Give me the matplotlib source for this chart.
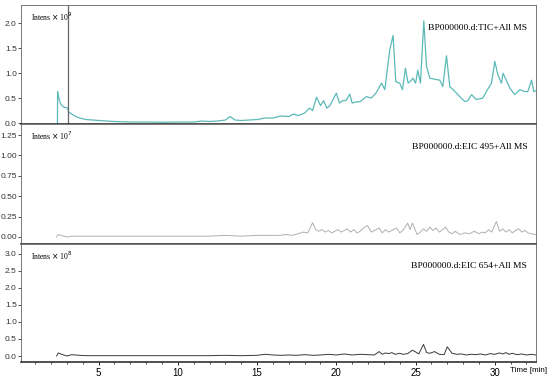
import matplotlib
matplotlib.use("Agg")
import matplotlib.pyplot as plt
from matplotlib.ticker import MultipleLocator

# ---------------- data ----------------
tic_t = [2.40, 2.41, 2.45, 2.55, 2.65, 2.79, 2.95, 3.04, 3.11, 3.3, 3.5, 3.8, 4.2, 4.6, 5.06,
         5.5, 6.0, 7.0, 8.0, 9.0, 10.0, 11.0, 11.5, 12.0, 12.5, 13.0, 13.3, 13.6, 14.0,
         14.5, 15.0, 15.5, 16.0, 16.5, 17.0, 17.3, 17.6, 18.0, 18.3, 18.5, 18.75, 19.0,
         19.2, 19.4, 19.6, 20.0, 20.2, 20.4, 20.6, 20.85, 21.0, 21.2, 21.5, 21.9, 22.2,
         22.5, 22.85, 23.06, 23.37, 23.58, 23.75, 24.0, 24.17, 24.36, 24.53, 24.7, 24.84,
         25.0, 25.14, 25.31, 25.52, 25.69, 25.9, 26.2, 26.53, 26.72, 26.95, 27.16, 27.37,
         27.79, 28.11, 28.3, 28.53, 28.84, 29.24, 29.5, 29.79, 30.0, 30.19, 30.42, 30.52,
         30.74, 30.95, 31.26, 31.58, 31.89, 32.08, 32.32, 32.46, 32.6]
tic_v = [0.00, 0.63, 0.55, 0.42, 0.36, 0.32, 0.31, 0.30, 0.22, 0.18, 0.14, 0.10, 0.07, 0.06, 0.05,
         0.04, 0.03, 0.02, 0.02, 0.015, 0.02, 0.02, 0.04, 0.03, 0.04, 0.06, 0.13, 0.06, 0.05,
         0.06, 0.07, 0.10, 0.10, 0.14, 0.13, 0.18, 0.15, 0.20, 0.30, 0.25, 0.52, 0.35,
         0.45, 0.30, 0.35, 0.60, 0.40, 0.45, 0.45, 0.58, 0.40, 0.42, 0.43, 0.53, 0.50,
         0.60, 0.80, 0.67, 1.47, 1.76, 0.83, 0.80, 0.67, 1.10, 0.80, 0.85, 0.90,
         0.80, 1.06, 0.80, 2.05, 1.14, 0.90, 0.88, 0.86, 0.73, 1.35, 0.73, 0.67,
         0.53, 0.43, 0.45, 0.57, 0.47, 0.50, 0.65, 0.80, 1.24, 0.97, 0.80, 1.00,
         0.85, 0.70, 0.57, 0.67, 0.63, 0.63, 0.86, 0.63, 0.65]

eic495_t = [2.35, 2.45, 2.6, 2.8, 3.0, 3.3, 3.6, 4.0, 5.0, 6.0, 7.0, 8.0, 9.0, 10.0, 11.0,
            12.0, 13.0, 14.0, 15.0, 15.5, 16.0, 16.4, 16.8, 17.2, 17.6, 17.9, 18.2, 18.5,
            18.7, 18.9, 19.1, 19.3, 19.5, 19.7, 19.9, 20.1, 20.3, 20.5, 20.7, 20.9, 21.1,
            21.3, 21.5, 21.7, 21.97, 22.2, 22.4, 22.7, 22.9, 23.1, 23.3, 23.5, 23.8, 24.0,
            24.2, 24.5, 24.65, 24.8, 25.1, 25.3, 25.5, 25.7, 25.9, 26.1, 26.3, 26.5, 26.7,
            26.9, 27.1, 27.3, 27.5, 27.8, 28.1, 28.4, 28.7, 29.0, 29.2, 29.4, 29.6, 29.8,
            30.1, 30.3, 30.5, 30.7, 30.9, 31.1, 31.3, 31.5, 31.7, 31.9, 32.1, 32.3, 32.6]
eic495_v = [0.00, 0.03, 0.02, 0.01, 0.00, 0.01, 0.01, 0.01, 0.01, 0.01, 0.01, 0.01, 0.01, 0.01, 0.01,
            0.01, 0.02, 0.01, 0.02, 0.02, 0.02, 0.02, 0.03, 0.02, 0.04, 0.06, 0.05, 0.175,
            0.09, 0.07, 0.09, 0.06, 0.08, 0.05, 0.07, 0.09, 0.06, 0.08, 0.10, 0.06, 0.09,
            0.05, 0.07, 0.11, 0.14, 0.06, 0.08, 0.11, 0.05, 0.09, 0.06, 0.08, 0.11, 0.05,
            0.08, 0.17, 0.09, 0.17, 0.03, 0.06, 0.10, 0.07, 0.12, 0.08, 0.11, 0.06, 0.09,
            0.12, 0.06, 0.04, 0.07, 0.03, 0.05, 0.04, 0.07, 0.04, 0.06, 0.05, 0.09, 0.06,
            0.19, 0.07, 0.10, 0.06, 0.09, 0.05, 0.08, 0.10, 0.06, 0.08, 0.05, 0.04, 0.03]

eic654_t = [2.35, 2.45, 2.6, 2.8, 3.0, 3.3, 3.5, 3.8, 4.2, 5.0, 6.0, 7.0, 8.0, 9.0, 10.0,
            11.0, 12.0, 13.0, 14.0, 15.0, 15.5, 16.0, 16.5, 17.0, 17.5, 18.0, 18.5, 19.0,
            19.5, 20.0, 20.5, 21.0, 21.5, 22.0, 22.4, 22.7, 22.9, 23.1, 23.3, 23.5, 23.7,
            24.0, 24.2, 24.5, 24.8, 25.0, 25.2, 25.5, 25.7, 25.9, 26.2, 26.5, 26.8, 27.0,
            27.3, 27.6, 27.9, 28.2, 28.5, 28.8, 29.1, 29.4, 29.7, 30.0, 30.3, 30.5, 30.7,
            30.9, 31.1, 31.4, 31.7, 32.0, 32.3, 32.6]
eic654_v = [0.00, 0.09, 0.06, 0.03, 0.00, 0.04, 0.03, 0.02, 0.01, 0.01, 0.01, 0.01, 0.01, 0.01, 0.01,
            0.01, 0.01, 0.02, 0.01, 0.02, 0.05, 0.03, 0.02, 0.03, 0.02, 0.04, 0.02, 0.03,
            0.05, 0.03, 0.06, 0.03, 0.05, 0.04, 0.03, 0.13, 0.05, 0.09, 0.07, 0.10, 0.05,
            0.08, 0.05, 0.07, 0.17, 0.12, 0.06, 0.34, 0.10, 0.08, 0.13, 0.05, 0.04, 0.27,
            0.08, 0.05, 0.06, 0.03, 0.05, 0.04, 0.06, 0.03, 0.07, 0.05, 0.09, 0.06, 0.10,
            0.05, 0.08, 0.04, 0.06, 0.03, 0.05, 0.03]

labels = ["BP000000.d:TIC+All MS", "BP000000.d:EIC 495+All MS", "BP000000.d:EIC 654+All MS"]
exps = ["9", "7", "8"]
x_ticks = [5, 10, 15, 20, 25, 30]
marker_time = 3.04

# ---------------- figure ----------------
fig = plt.figure(figsize=(5.5, 3.8), dpi=100)
L, R = 21 / 550, 536 / 550
bounds = [(5, 124), (124, 244), (244, 362)]
ylims = [(-0.02, 2.37), (-0.086, 1.385), (-0.176, 3.29)]
ymajor = [0.5, 0.25, 0.5]
yfmt = ["%.1f", "%.2f", "%.1f"]
series = [(tic_t, tic_v, "#5dbab8", 0.9), (eic495_t, eic495_v, "#b0b0b0", 0.7),
          (eic654_t, eic654_v, "#3a3a3a", 0.7)]

axes = []
for i, (top, bot) in enumerate(bounds):
    ax = fig.add_axes([L, 1 - bot / 380, R - L, (bot - top) / 380])
    t, v, c, lw = series[i]
    ax.plot(t, v, color=c, lw=lw)
    ax.set_xlim(0.1, 32.6)
    ax.set_ylim(*ylims[i])
    ax.yaxis.set_major_locator(MultipleLocator(ymajor[i]))
    ax.yaxis.set_major_formatter(matplotlib.ticker.FormatStrFormatter(yfmt[i]))
    ax.tick_params(axis="y", labelsize=6, length=2, width=0.6, pad=1, colors="#333333")
    ax.tick_params(axis="y", which="minor", length=1.2, width=0.5)
    for lab in ax.get_yticklabels():
        lab.set_family("Liberation Sans")
    for s in ["top", "right", "left"]:
        ax.spines[s].set_color("#777777")
        ax.spines[s].set_linewidth(0.7)
    ax.spines["bottom"].set_color("#222222")
    ax.spines["bottom"].set_linewidth(1.1)
    ax.text(0.02, 0.955, "Intens $\\times$ 10$^{%s}$" % exps[i], transform=ax.transAxes,
            fontsize=5.5, family="Liberation Serif", va="top", ha="left")
    ax.text(0.983, 0.81, labels[i], transform=ax.transAxes, fontsize=6.8,
            family="Liberation Serif", va="center", ha="right")
    ax.xaxis.set_major_locator(matplotlib.ticker.FixedLocator(x_ticks))
    ax.xaxis.set_minor_locator(MultipleLocator(1))
    if i < 2:
        ax.tick_params(axis="x", which="both", bottom=False, labelbottom=False)
    else:
        ax.tick_params(axis="x", which="major", labelsize=7, length=2.5, width=0.6, pad=2)
        ax.tick_params(axis="x", which="minor", length=1.5, width=0.5)
        for lab in ax.get_xticklabels():
            lab.set_family("Liberation Sans")
    axes.append(ax)

axes[0].axvline(marker_time, color="#666666", lw=0.9)
fig.text(529 / 550, 1 - 370 / 380, "Time [min]", fontsize=5.8, family="Liberation Sans",
         ha="center", va="center")

fig.savefig("out.png", dpi=100)
